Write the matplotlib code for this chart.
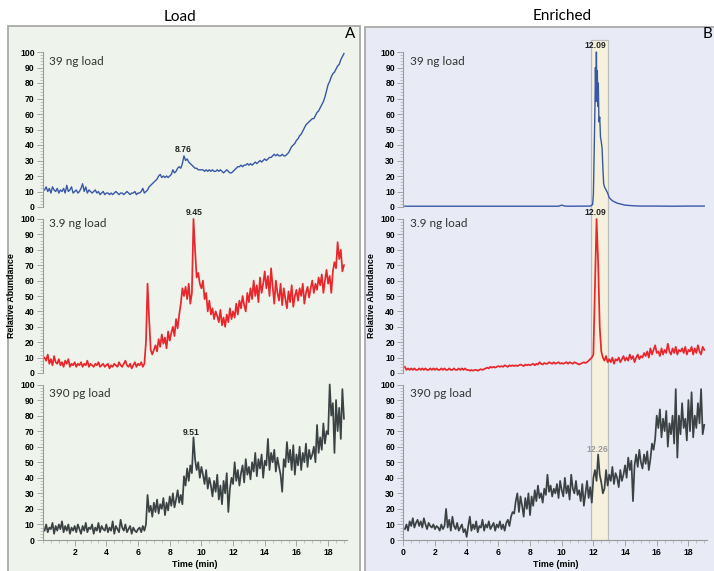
import numpy as np
import matplotlib
matplotlib.use('Agg')
import matplotlib.pyplot as plt
from matplotlib.patches import Rectangle
from matplotlib.transforms import blended_transform_factory
from matplotlib.ticker import MultipleLocator

# time grid of the noisy traces (min)
t_grid = np.round(np.arange(1, 191) * 0.1, 1)

# Load, 39 ng (blue)
load_39ng = [
    11, 13, 10, 12, 9, 13, 11, 10, 12, 9,
    11, 10, 12, 9, 14, 10, 11, 13, 9, 10,
    11, 9, 10, 12, 15, 10, 13, 9, 11, 10,
    9, 10, 11, 9, 10, 8, 9, 10, 8, 9,
    9, 8, 9, 8, 9, 10, 9, 8, 9, 9,
    8, 9, 10, 9, 8, 9, 9, 10, 8, 9,
    9, 10, 12, 9, 10, 11, 13, 14, 15, 16,
    17, 18, 20, 21, 19, 20, 19, 20, 19, 20,
    21, 24, 22, 23, 25, 26, 25, 28, 33, 30,
    31, 29, 28, 27, 26, 25, 25, 24, 24, 24,
    24, 23, 24, 23, 24, 23, 24, 23, 23, 24,
    23, 24, 23, 22, 23, 24, 23, 22, 22, 23,
    24, 25, 26, 26, 27, 26, 27, 27, 28, 27,
    28, 27, 28, 29, 28, 29, 30, 29, 30, 31,
    30, 31, 32, 32, 33, 34, 33, 34, 33, 33,
    34, 33, 33, 34, 35, 37, 39, 40, 41, 43,
    44, 46, 47, 49, 51, 53, 54, 55, 56, 57,
    57, 59, 61, 62, 64, 66, 68, 71, 75, 79,
    81, 84, 86, 87, 89, 91, 92, 95, 97, 99,
]

# Load, 3.9 ng (red)
load_3_9ng = [
    10, 8, 12, 6, 9, 5, 11, 7, 6, 9,
    5, 7, 4, 8, 6, 9, 4, 6, 5, 7,
    4, 6, 5, 7, 4, 6, 5, 8, 4, 6,
    5, 4, 6, 5, 7, 4, 5, 6, 4, 5,
    6, 3, 5, 4, 6, 5, 4, 7, 5, 4,
    6, 8, 5, 4, 6, 3, 5, 7, 4, 6,
    5, 7, 4, 6, 20, 58, 35, 15, 12, 15,
    18, 14, 22, 17, 25, 19, 23, 16, 27, 21,
    26, 30, 24, 35, 29, 38, 45, 55, 50, 56,
    48, 58, 45, 52, 100, 80, 62, 65, 58, 55,
    60, 48, 52, 40, 47, 38, 42, 35, 40, 37,
    33, 41, 31, 36, 30, 38, 33, 42, 35, 40,
    36, 45, 38, 47, 42, 50, 44, 40, 52, 46,
    55, 48, 60, 50, 57, 46, 62, 52, 58, 66,
    55, 63, 50, 68, 56, 45, 60, 52, 47, 58,
    44, 55, 48, 42, 53, 46, 57, 43, 50, 54,
    47, 55, 50, 58, 45, 52, 56, 49, 55, 60,
    52, 58, 54, 62, 57, 64, 52, 60, 67, 58,
    63, 52, 66, 72, 68, 85, 74, 80, 66, 70,
]

# Load, 390 pg (dark grey)
load_390pg = [
    6, 10, 5, 8, 7, 11, 4, 9, 6, 10,
    7, 12, 5, 9, 6, 10, 4, 8, 6, 9,
    5, 10, 7, 4, 9, 6, 11, 5, 8, 7,
    10, 4, 8, 6, 11, 5, 9, 7, 6, 10,
    5, 8, 6, 12, 4, 9, 7, 5, 13, 8,
    6, 10, 5, 7, 9, 4, 8, 6, 5, 7,
    8, 5, 9, 6, 10, 29, 18, 22, 15, 24,
    18, 26, 17, 23, 20, 27, 16, 24, 19, 28,
    22, 30, 21, 26, 32, 24, 29, 23, 41, 35,
    46, 38, 48, 43, 66, 52, 45, 50, 40, 47,
    42, 36, 45, 33, 40, 35, 28, 38, 31, 42,
    26, 35, 23, 38, 30, 43, 18, 33, 40, 36,
    50, 38, 45, 35, 43, 48, 37, 52, 42, 47,
    39, 50, 44, 56, 41, 52, 46, 55, 40, 51,
    48, 65, 45, 56, 50, 58, 44, 53, 47, 42,
    31, 52, 47, 63, 50, 58, 45, 61, 42, 55,
    48, 60, 45, 56, 50, 62, 47, 58, 52, 55,
    60, 50, 74, 56, 66, 58, 75, 62, 70, 68,
    100, 80, 88, 56, 90, 70, 85, 65, 97, 78,
]

# Enriched, 39 ng (blue) - sharp peak, own time points
enr_39ng_t = [0.1, 2.0, 4.0, 6.0, 8.0, 9.8, 10.0, 10.2, 10.4, 11.8, 11.95,
              12.0, 12.05, 12.1, 12.13, 12.16, 12.19, 12.22, 12.25, 12.28,
              12.31, 12.35, 12.4, 12.45, 12.5, 12.55, 12.6, 12.65, 12.7,
              12.8, 12.9, 13.0, 13.2, 13.5, 14.0, 14.5, 15.0, 16.0, 17.0,
              18.0, 19.0]
enr_39ng = [0.5, 0.5, 0.5, 0.5, 0.5, 0.5, 1.2, 0.6, 0.5, 0.6, 1.5,
            8, 35, 65, 90, 68, 100, 72, 88, 65,
            80, 55, 58, 45, 42, 38, 25, 15, 13,
            11, 9, 6, 4, 2.5, 1.2, 0.8, 0.6, 0.6, 0.5,
            0.6, 0.6]

# Enriched, 3.9 ng (red)
enr_3_9ng = [
    4, 2, 3, 2, 3, 2, 3, 2, 2, 3,
    2, 3, 2, 3, 2, 2, 3, 2, 3, 2,
    3, 2, 2, 3, 2, 3, 2, 2, 3, 2,
    2, 3, 2, 2, 3, 2, 3, 2, 3, 2,
    2, 1.5, 2, 1.5, 2, 2, 1.5, 2, 2.5, 2,
    2.5, 3, 3.5, 3, 4, 3.5, 4, 3.5, 4, 4.5,
    4, 4.5, 4, 5, 4.5, 4, 5, 4.5, 5, 4.5,
    5, 4.5, 5, 5.5, 5, 4.5, 5.5, 5, 5.5, 5,
    5.5, 6, 5, 6, 5.5, 7, 6, 5.5, 6.5, 6,
    6, 7, 6.5, 6, 7, 6, 6.5, 7, 6, 6.5,
    6, 6.5, 7, 6, 7, 6.5, 6, 7, 6.5, 6,
    5.5, 6, 6.5, 7, 6.5, 7, 8, 9, 10, 12,
    55, 100, 72, 30, 14, 10, 8, 11, 7, 9,
    7, 10, 6, 9, 8, 10, 7, 9, 11, 8,
    10, 8, 12, 9, 11, 7, 10, 12, 9, 11,
    10, 13, 11, 14, 10, 16, 12, 15, 18, 13,
    14, 11, 16, 12, 15, 13, 19, 14, 12, 16,
    13, 17, 12, 15, 14, 16, 13, 17, 12, 15,
    14, 17, 12, 16, 13, 18, 14, 12, 17, 15,
]

# Enriched, 390 pg (dark grey)
enr_390pg = [
    7, 10, 6, 12, 9, 14, 8, 11, 13, 9,
    12, 8, 14, 10, 7, 11, 9, 8, 10, 7,
    9, 8, 6, 10, 7, 9, 20, 8, 13, 6,
    15, 9, 7, 11, 6, 8, 10, 5, 7, 2,
    9, 15, 6, 10, 7, 12, 5, 9, 8, 13,
    6, 10, 8, 12, 7, 9, 11, 6, 10, 8,
    12, 7, 10, 6, 11, 13, 9, 15, 18, 17,
    25, 30, 18, 28, 22, 15, 27, 20, 30, 16,
    28, 22, 32, 25, 35, 27, 30, 24, 33, 29,
    42, 31, 35, 28, 33, 30, 36, 27, 38, 32,
    28, 40, 30, 35, 26, 42, 33, 30, 38, 29,
    32, 25, 36, 22, 30, 38, 27, 34, 24, 40,
    45, 38, 55, 42, 37, 30, 33, 45, 35, 42,
    38, 47, 36, 43, 40, 34, 45, 38, 42, 48,
    40, 53, 45, 51, 25, 48, 55, 47, 58, 50,
    46, 55, 49, 57, 45, 52, 62, 58, 65, 80,
    72, 84, 66, 78, 70, 83, 60, 75, 68, 80,
    62, 97, 53, 80, 68, 88, 72, 78, 64, 90,
    70, 95, 66, 80, 72, 88, 75, 97, 68, 74,
]

load_names = ['39 ng load', '3.9 ng load', '390 pg load']
peak_labels_load = [(8.85, 37, '8.76'), (9.55, 104, '9.45'), (9.37, 69, '9.51')]
peak_labels_enr = [(12.1, 104, '12.09'), (12.1, 104, '12.09'), (12.26, 58, '12.26')]
band = (11.84, 12.95)

BLUE = '#3857a6'
RED = '#e8262b'
GREY = '#3a4244'
W, H = 714, 571

fig = plt.figure(figsize=(W / 100, H / 100), dpi=100)


def fx(px):
    return px / W


def fy(py):
    return 1 - py / H


# panel backgrounds
fig.add_artist(Rectangle((fx(8), fy(575)), fx(352), fy(26) - fy(575), transform=fig.transFigure,
                         facecolor='#eef4ec', edgecolor='#a9a9a9', lw=1.3, zorder=-2))
fig.add_artist(Rectangle((fx(365), fy(575)), fx(352), fy(27) - fy(575), transform=fig.transFigure,
                         facecolor='#e8ebf6', edgecolor='#a9a9a9', lw=1.3, zorder=-2))

rows = [(52, 207), (219, 373), (384.5, 540)]
cols = [43, 403.3]
xmax = 19.2
pxmin = 15.84

fig.text(fx(180), fy(17), 'Load', ha='center', va='center', fontsize=11, family='Lato')
fig.text(fx(562), fy(16), 'Enriched', ha='center', va='center', fontsize=11, family='Lato')
fig.text(fx(350), fy(34), 'A', ha='center', va='center', fontsize=11, family='Lato')
fig.text(fx(707), fy(34), 'B', ha='center', va='center', fontsize=11, family='Lato')

tick_font = dict(family='Liberation Sans', weight='bold', size=6.2)

load_traces = [(t_grid, load_39ng, BLUE), (t_grid, load_3_9ng, RED), (t_grid, load_390pg, GREY)]
enr_traces = [(enr_39ng_t, enr_39ng, BLUE), (t_grid, enr_3_9ng, RED), (t_grid, enr_390pg, GREY)]

axes = {}
for c, (x0, traces, peaks) in enumerate([(cols[0], load_traces, peak_labels_load),
                                          (cols[1], enr_traces, peak_labels_enr)]):
    for r, (ytop, ybot) in enumerate(rows):
        ax = fig.add_axes([fx(x0), fy(ybot), xmax * pxmin / W, (ybot - ytop) / H])
        ax.set_facecolor('none')
        tx, ty, col = traces[r]
        ax.plot(tx, ty, color=col, lw=1.0 if r == 0 else 1.25, clip_on=False)
        ax.set_xlim(0, xmax)
        ax.set_ylim(0, 100)
        for s in ['top', 'right']:
            ax.spines[s].set_visible(False)
        ax.spines['left'].set_color('#9a9a9a')
        ax.spines['bottom'].set_color('#9a9a9a')
        ax.yaxis.set_major_locator(MultipleLocator(10))
        ax.yaxis.set_minor_locator(MultipleLocator(2))
        ax.tick_params(axis='y', which='major', length=4, width=0.6, color='#9a9a9a', pad=2)
        ax.tick_params(axis='y', which='minor', length=2.2, width=0.5, color='#b0b0b0')
        for lab in ax.get_yticklabels():
            lab.set_fontproperties(tick_font)
        if r < 2:
            ax.spines['bottom'].set_visible(False)
            ax.set_xticks([])
        else:
            ax.xaxis.set_major_locator(MultipleLocator(2))
            ax.xaxis.set_minor_locator(MultipleLocator(0.5))
            ax.tick_params(axis='x', which='major', length=4, width=0.6, color='#9a9a9a', pad=2)
            ax.tick_params(axis='x', which='minor', length=2.2, width=0.5, color='#b0b0b0')
            ticks = np.arange(0, 19, 2) if c == 1 else np.arange(2, 19, 2)
            ax.set_xticks(ticks)
            ax.set_xticklabels([str(v) for v in ticks], fontproperties=tick_font)
            ax.set_xlabel('Time (min)', fontproperties=tick_font, fontsize=6.4, labelpad=2)
        if r == 1:
            ax.set_ylabel('Relative Abundance', fontproperties=tick_font, fontsize=6.4, labelpad=3)
        ax.text(0.4, 94 if r != 1 else 97, load_names[r], ha='left', va='center',
                fontsize=8.5, family='Lato', color='#333333')
        px, py, lab = peaks[r]
        ax.text(px, py, lab, ha='center', va='center', fontproperties=tick_font,
                fontsize=6.2, color='#999999' if (c == 1 and r == 2) else '#222222', clip_on=False)
        axes[(c, r)] = ax

# highlighted retention window across the enriched panel
tr = blended_transform_factory(axes[(1, 2)].transData, fig.transFigure)
fig.add_artist(Rectangle((band[0], fy(540)), band[1] - band[0], fy(40) - fy(540), transform=tr,
                         facecolor='#f5f1dd', edgecolor='#bdbdbd', lw=0.9, zorder=-1))

fig.savefig('out.png', dpi=100)
